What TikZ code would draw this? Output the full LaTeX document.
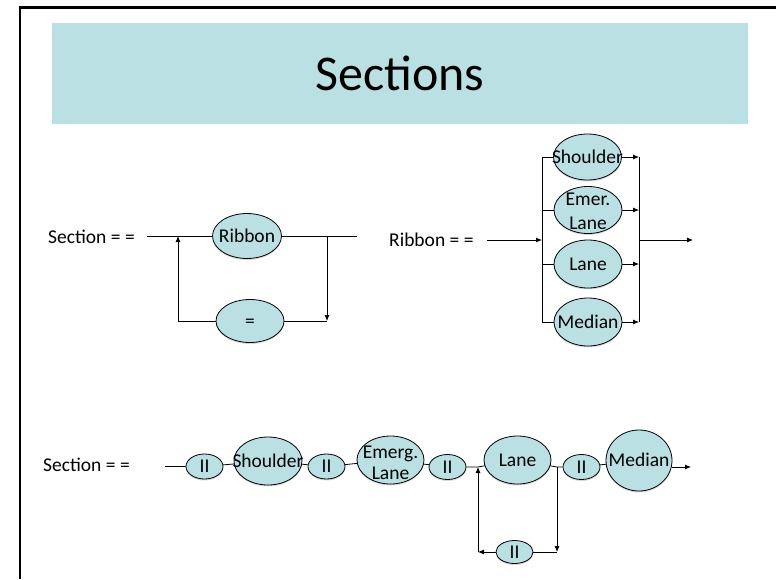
\documentclass[tikz,border=0pt]{standalone}
\usepackage{fontspec}
\setmainfont{Carlito}
\usetikzlibrary{arrows.meta,shapes.geometric,shadows}
\definecolor{paleblue}{RGB}{187,224,227}
\newcommand{\inblob}[1]{\makebox[0pt]{#1}}
\tikzset{
  blob/.style={ellipse, draw=black, line width=0.8pt, fill=paleblue, inner sep=0pt,
    text height=12pt, text depth=0pt, minimum width=68pt, minimum height=46pt,
    drop shadow={shadow xshift=0pt, shadow yshift=-1.5pt, opacity=0.3}},
  bar/.style={blob, minimum width=37pt, minimum height=25pt},
  wire/.style={line width=0.8pt},
  flow/.style={wire, -{Latex[length=6pt,width=5pt]}},
  say/.style={anchor=west, inner sep=0pt},
}

\begin{document}
\begin{tikzpicture}[x=1pt,y=-1pt,font=\fontsize{19.5}{21}\selectfont]
			%%%%% START %%%%%
			\useasboundingbox (0,0) rectangle (776,579);
			\draw[line width=2.5pt] (20,579) -- (20,7.5) -- (776,7.5);
			\fill[paleblue] (52,22.5) rectangle (748,124);
			\node[font=\fontsize{50}{60}\selectfont] (title) at (400,73) {Sections};
			
			% Section = = with Ribbon loop
			\node[say] (sec1) at (48,237) {Section = =};
			\coordinate (s1a) at (147,236);
			\coordinate (s1b) at (178,236);
			\coordinate (s1c) at (327,236);
			\coordinate (s1d) at (357,236);
			\coordinate (s1e) at (178,321);
			\coordinate (s1f) at (327,321);
			\node[blob, minimum width=69pt, minimum height=45pt] (rib) at (247,236) {\inblob{Ribbon}};
			\node[blob, minimum height=43pt] (eq) at (250,321) {\inblob{=}};
			\draw[wire] (s1a) -- (rib) -- (s1d);
			\draw[flow] (s1e) -- (s1b);
			\draw[flow] (s1c) -- (s1f);
			\draw[wire] (s1e) -- (eq) -- (s1f);
			
			% Ribbon = = with four branches
			\node[say] (rb) at (389,240) {Ribbon = =};
			\coordinate (r0) at (487,240);
			\coordinate (rin) at (542,240);
			\coordinate (rout) at (639,240);
			\coordinate (r9) at (693,240);
			\node[blob] (sh1) at (587.5,157) {\inblob{Shoulder}};
			\node[blob, minimum height=47pt] (em1) at (588,210) {\inblob{\raisebox{-2pt}{\begin{tabular}{@{}c@{}}Emer.\\[3pt]Lane\end{tabular}}}};
			\node[blob, minimum height=48pt] (ln1) at (588,264) {\inblob{Lane}};
			\node[blob, minimum height=48pt] (md1) at (588,322) {\inblob{Median}};
			\draw[wire] (sh1.west -| rin) -- (md1.west -| rin);
			\draw[wire] (sh1.east -| rout) -- (md1.east -| rout);
			\draw[flow] (r0) -- (rin);
			\draw[flow] (rout) -- (r9);
			\foreach \b in {sh1,em1,ln1,md1}{
				\draw[wire] (\b.west -| rin) -- (\b.west);
				\draw[flow] (\b.east) -- (\b.east -| rout);
			}
			
			% Section = = as a chain
			\node[say] (sec2) at (43,465) {Section = =};
			\coordinate (q0) at (165,466.5);
			\node[bar] (ii1) at (204.5,466.5) {\inblob{II}};
			\node[blob, minimum height=48pt] (sh2) at (268,461) {\inblob{Shoulder}};
			\node[bar] (ii2) at (326.5,466.5) {\inblob{II}};
			\node[blob, minimum width=67pt, minimum height=48pt] (em2) at (390.5,460) {\inblob{\raisebox{-4pt}{\begin{tabular}{@{}c@{}}Emerg.\\Lane\end{tabular}}}};
			\node[bar] (ii3) at (447.5,467) {\inblob{II}};
			\coordinate (q1) at (478,467);
			\node[blob, minimum width=67pt, minimum height=48pt] (ln2) at (517.5,460) {\inblob{Lane}};
			\coordinate (q2) at (557,467);
			\node[bar] (ii4) at (581.5,467) {\inblob{II}};
			\node[blob, minimum width=66pt, minimum height=61pt] (md2) at (639,460.5) {\inblob{Median}};
			\coordinate (q9) at (691,467);
			\node[bar, minimum height=23pt] (ii5) at (514.5,552) {\inblob{II}};
			\coordinate (q3) at (478,552);
			\coordinate (q4) at (557,552);
			\draw[wire] (q0) -- (ii1) -- (sh2) -- (ii2) -- (em2) -- (ii3) -- (q1) -- (ln2) -- (q2) -- (ii4) -- (md2);
			\draw[flow] (md2.east |- q9) -- (q9);
			\draw[flow] (q2) -- (q4);
			\draw[wire] (q4) -- (ii5);
			\draw[flow] (ii5) -- (q3);
			\draw[flow] (q3) -- (q1);
			%%%%% END %%%%%
\end{tikzpicture}
\end{document}
